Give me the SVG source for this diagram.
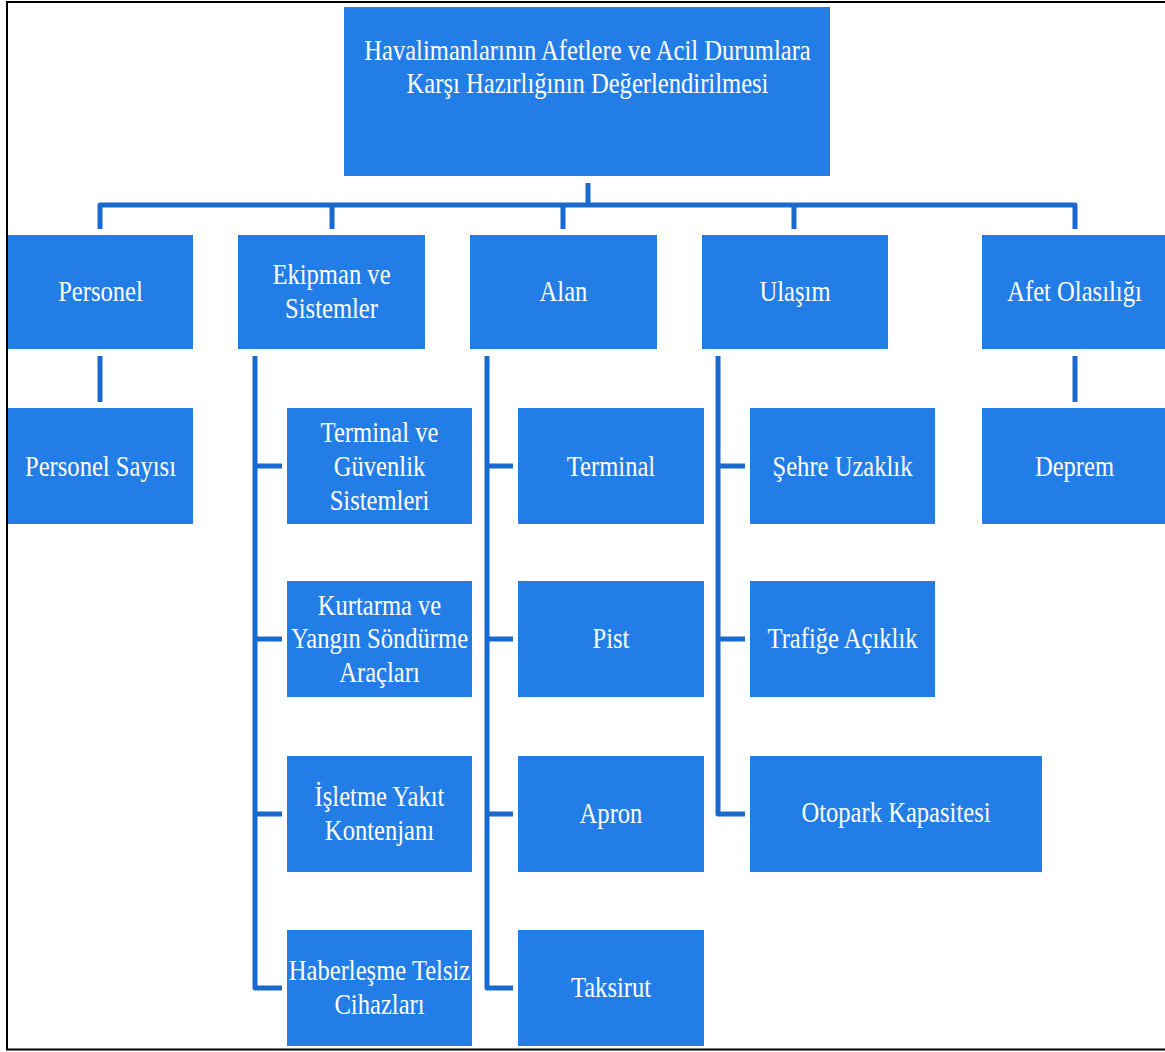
<svg xmlns="http://www.w3.org/2000/svg" width="1165" height="1052" viewBox="0 0 1165 1052">
  <style>
    .box { fill: #237de6; }
    .link { fill: none; stroke: #1a69cc; stroke-width: 5; stroke-linejoin: round; stroke-linecap: butt; }
  </style>
  <rect x="0" y="0" width="1165" height="1052" fill="#ffffff"/>
  <!-- frame (open on the right) -->
  <path d="M1170,2 H7 V1049.5 H1170" fill="none" stroke="#000000" stroke-width="2"/>

  <!-- connectors -->
  <g id="connectors" class="link">
    <path d="M588,183 V205"/>
    <path d="M100,229 V205 H1075 V229"/>
    <path d="M332,205 V229 M563,205 V229 M794,205 V229"/>
    <path d="M100,356 V402"/>
    <path d="M1075,356 V402"/>
    <path d="M255,356 V988 H282 M255,466 H282 M255,639 H282 M255,814 H282"/>
    <path d="M487,356 V988 H513 M487,466 H513 M487,639 H513 M487,814 H513"/>
    <path d="M718,356 V814 H745 M718,466 H745 M718,639 H745"/>
  </g>

  <!-- labels use condensed Times-style lettering -->
  <g font-family="'Liberation Serif', 'Times New Roman', Times, serif" font-size="30" fill="#ffffff" text-anchor="middle">
  <!-- root -->
  <g id="root">
    <rect class="box" x="344" y="7" width="486" height="169"/>
    <text transform="matrix(0.82 0 0 1 587.5 0)" y="60">Havalimanlarının Afetlere ve Acil Durumlara</text>
    <text transform="matrix(0.82 0 0 1 587.5 0)" y="93">Karşı Hazırlığının Değerlendirilmesi</text>
  </g>

  <!-- level 1 -->
  <g id="personel">
    <rect class="box" x="8" y="235" width="185" height="114"/>
    <text transform="matrix(0.82 0 0 1 100.5 0)" y="301">Personel</text>
  </g>
  <g id="ekipman">
    <rect class="box" x="238" y="235" width="187" height="114"/>
    <text transform="matrix(0.82 0 0 1 331.5 0)" y="284">Ekipman ve</text>
    <text transform="matrix(0.82 0 0 1 331.5 0)" y="318">Sistemler</text>
  </g>
  <g id="alan">
    <rect class="box" x="470" y="235" width="187" height="114"/>
    <text transform="matrix(0.82 0 0 1 563.5 0)" y="301">Alan</text>
  </g>
  <g id="ulasim">
    <rect class="box" x="702" y="235" width="186" height="114"/>
    <text transform="matrix(0.82 0 0 1 795 0)" y="301">Ulaşım</text>
  </g>
  <g id="afet">
    <rect class="box" x="982" y="235" width="190" height="114"/>
    <text transform="matrix(0.82 0 0 1 1074.5 0)" y="301">Afet Olasılığı</text>
  </g>

  <!-- Personel children -->
  <g id="personel-sayisi">
    <rect class="box" x="8" y="408" width="185" height="116"/>
    <text transform="matrix(0.82 0 0 1 100.5 0)" y="476">Personel Sayısı</text>
  </g>

  <!-- Ekipman children -->
  <g id="terminal-guvenlik">
    <rect class="box" x="287" y="408" width="185" height="116"/>
    <text transform="matrix(0.82 0 0 1 379.5 0)" y="442">Terminal ve</text>
    <text transform="matrix(0.82 0 0 1 379.5 0)" y="476">Güvenlik</text>
    <text transform="matrix(0.82 0 0 1 379.5 0)" y="510">Sistemleri</text>
  </g>
  <g id="kurtarma">
    <rect class="box" x="287" y="581" width="185" height="116"/>
    <text transform="matrix(0.82 0 0 1 379.5 0)" y="615">Kurtarma ve</text>
    <text transform="matrix(0.82 0 0 1 379.5 0)" y="648">Yangın Söndürme</text>
    <text transform="matrix(0.82 0 0 1 379.5 0)" y="682">Araçları</text>
  </g>
  <g id="isletme-yakit">
    <rect class="box" x="287" y="756" width="185" height="116"/>
    <text transform="matrix(0.82 0 0 1 379.5 0)" y="806">İşletme Yakıt</text>
    <text transform="matrix(0.82 0 0 1 379.5 0)" y="840">Kontenjanı</text>
  </g>
  <g id="haberlesme">
    <rect class="box" x="287" y="930" width="185" height="116"/>
    <text transform="matrix(0.82 0 0 1 379.5 0)" y="980">Haberleşme Telsiz</text>
    <text transform="matrix(0.82 0 0 1 379.5 0)" y="1014">Cihazları</text>
  </g>

  <!-- Alan children -->
  <g id="terminal">
    <rect class="box" x="518" y="408" width="186" height="116"/>
    <text transform="matrix(0.82 0 0 1 611 0)" y="476">Terminal</text>
  </g>
  <g id="pist">
    <rect class="box" x="518" y="581" width="186" height="116"/>
    <text transform="matrix(0.82 0 0 1 611 0)" y="648">Pist</text>
  </g>
  <g id="apron">
    <rect class="box" x="518" y="756" width="186" height="116"/>
    <text transform="matrix(0.82 0 0 1 611 0)" y="823">Apron</text>
  </g>
  <g id="taksirut">
    <rect class="box" x="518" y="930" width="186" height="116"/>
    <text transform="matrix(0.82 0 0 1 611 0)" y="997">Taksirut</text>
  </g>

  <!-- Ulaşım children -->
  <g id="sehre-uzaklik">
    <rect class="box" x="750" y="408" width="185" height="116"/>
    <text transform="matrix(0.82 0 0 1 842.5 0)" y="476">Şehre Uzaklık</text>
  </g>
  <g id="trafige-aciklik">
    <rect class="box" x="750" y="581" width="185" height="116"/>
    <text transform="matrix(0.82 0 0 1 842.5 0)" y="648">Trafiğe Açıklık</text>
  </g>
  <g id="otopark">
    <rect class="box" x="750" y="756" width="292" height="116"/>
    <text transform="matrix(0.82 0 0 1 896 0)" y="822">Otopark Kapasitesi</text>
  </g>

  <!-- Afet children -->
  <g id="deprem">
    <rect class="box" x="982" y="408" width="190" height="116"/>
    <text transform="matrix(0.82 0 0 1 1074.5 0)" y="476">Deprem</text>
  </g>
  </g>
</svg>
